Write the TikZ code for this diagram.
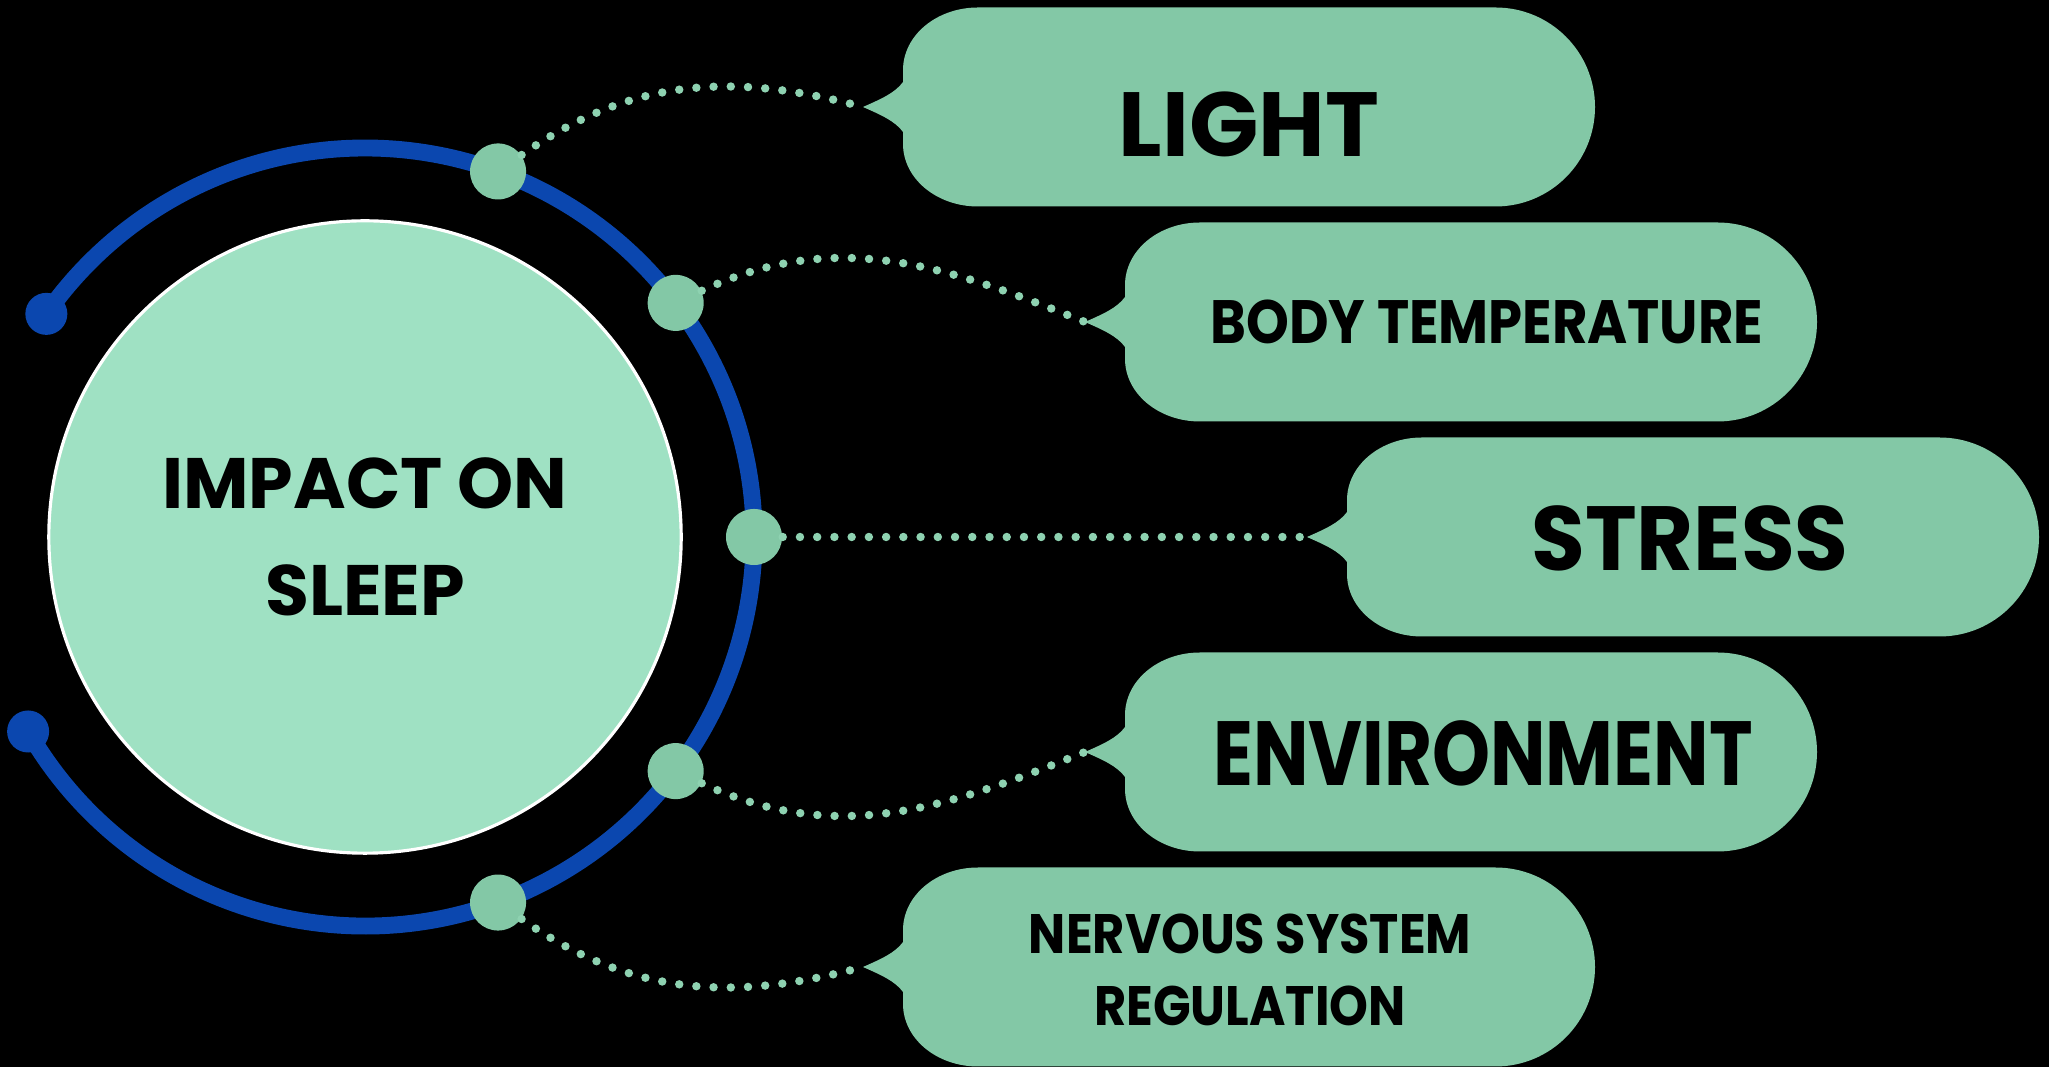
\documentclass[tikz,border=0pt]{standalone}
\usepackage{fontspec}
\setmainfont{Poppins}
\newfontfamily\slimA{Poppins}[FakeStretch=0.96]
\newfontfamily\slimB{Poppins}[FakeStretch=0.89]
\newfontfamily\slimC{Poppins}[FakeStretch=0.81]
\definecolor{ringblue}{HTML}{0B47AF}
\definecolor{mint}{HTML}{83C8A6}
\definecolor{pale}{HTML}{9FE1C3}
\definecolor{dotmint}{HTML}{8ED2B1}
\tikzset{
  ring/.style={draw=ringblue, line width=4.8pt},
  ringend/.style={circle, fill=ringblue, inner sep=0pt, minimum size=0.42cm},
  knot/.style={circle, fill=mint, inner sep=0pt, minimum size=0.56cm},
  bubble/.style={fill=mint},
  dotline/.style={draw=dotmint, line width=2.4pt, line cap=round, dash pattern=on 0pt off 4.9pt},
  hub/.style={circle, fill=pale, draw=white, line width=0.9pt, minimum size=6.32cm, inner sep=0pt,
    align=center, font=\fontsize{20.3}{30.6}\selectfont\bfseries},
  large/.style={inner sep=0pt, font=\fontsize{25.9}{30}\selectfont\bfseries},
  medium/.style={inner sep=0pt, font=\slimB\fontsize{17.4}{20}\selectfont\bfseries},
  small/.style={inner sep=0pt, align=center, font=\slimB\fontsize{15.8}{20.4}\selectfont\bfseries}
}
% callout body: name of tip, left x, centre y
\newcommand{\callout}[3]{%
  \fill[bubble] (#2-40,#3) coordinate (#1)
    .. controls (#2-22,#3+8) and (#2-8,#3+14) .. (#2,#3+25)
    -- (#2,#3+37)
    arc[start angle=180, end angle=90, x radius=75, y radius=62.5]
    -- (#2+592.5,#3+99.5)
    arc[start angle=90, end angle=-90, radius=99.5]
    -- (#2+75,#3-99.5)
    arc[start angle=270, end angle=180, x radius=75, y radius=62.5]
    -- (#2,#3-25)
    .. controls (#2-8,#3-14) and (#2-22,#3-8) .. (#2-40,#3) -- cycle;}
\begin{document}
\begin{tikzpicture}[x=0.01cm, y=0.01cm]
	\useasboundingbox (0,0) rectangle (2049,1067);
	\fill[black] (0,0) rectangle (2049,1067);
	% Centre and ring:
	\node[hub] (sleep) at (365,530) {IMPACT ON\\SLEEP};
	\draw[ring] ([shift={(-150:389)}]sleep.center) arc (-150:145:389);
	\node[ringend] (endA) at ([shift={(145:389)}]sleep.center) {};
	\node[ringend] (endB) at ([shift={(-150:389)}]sleep.center) {};
	\foreach \a/\n in {70/d1, 37/d2, 0/d3, -37/d4, -70/d5}
		\node[knot] (\n) at ([shift={(\a:389)}]sleep.center) {};
	% Callouts:
	\callout{t1}{903}{960}
	\callout{t2}{1125}{745}
	\callout{t3}{1347}{530}
	\callout{t4}{1125}{315}
	\callout{t5}{903}{100}
	\node[large] (light) at (1249,943) {LIGHT};
	\node[medium] (body) at (1487,745) {BODY TEMPERATURE};
	\node[large, font=\slimA\fontsize{25.9}{30}\selectfont\bfseries] (stress) at (1690,529) {STRESS};
	\node[large, font=\slimC\fontsize{25.9}{30}\selectfont\bfseries] (env) at (1483,314) {ENVIRONMENT};
	\node[small] (nerve) at (1250,97) {NERVOUS SYSTEM\\REGULATION};
	% Dotted links:
	\draw[dotline] (d1) to[out=35, in=165] (t1);
	\draw[dotline] (d2) to[out=25, in=158] (t2);
	\draw[dotline] (d3) -- (t3);
	\draw[dotline] (d4) to[out=-25, in=-158] (t4);
	\draw[dotline] (d5) to[out=-35, in=-165] (t5);
\end{tikzpicture}
\end{document}
